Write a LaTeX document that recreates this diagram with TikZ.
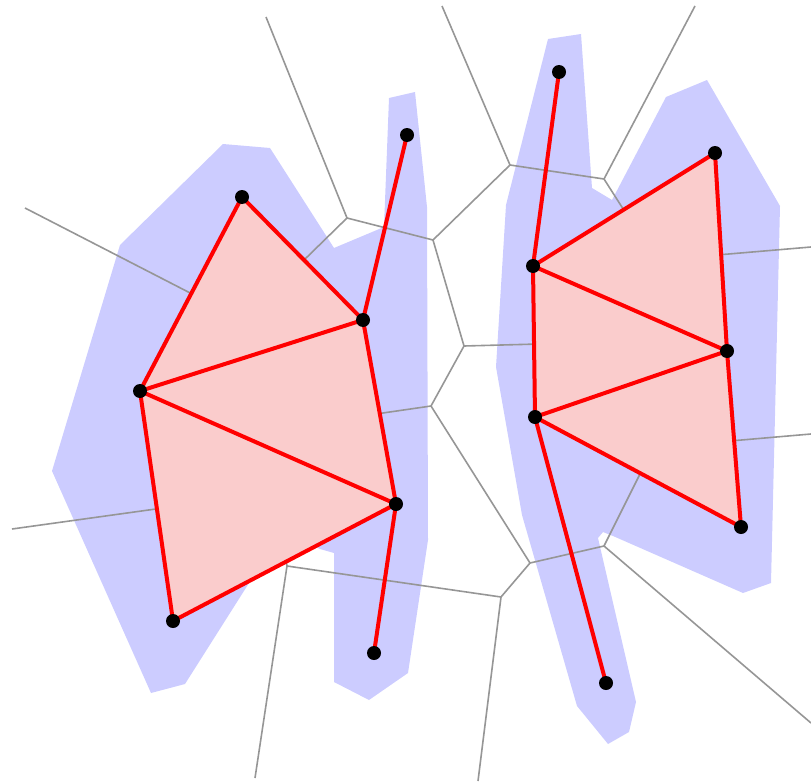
\documentclass[tikz,border=0pt]{standalone}
\usepackage{tikz}
\usetikzlibrary{backgrounds}
\definecolor{regionblue}{RGB}{204,204,255}
\definecolor{cellpink}{RGB}{250,204,204}
\definecolor{voronoigray}{RGB}{150,150,150}

\begin{document}
\begin{tikzpicture}[
    x=1pt, y=-1pt,
    region/.style={fill=regionblue, draw=none},
    cell/.style={fill=cellpink, draw=none},
    voronoi/.style={draw=voronoigray, line width=1.6pt},
    link/.style={draw=red, line width=4pt, line join=round},
    site/.style={circle, fill=black, minimum size=14pt, inner sep=0pt},
  ]
  \useasboundingbox (0,0) rectangle (811,784);
  % sites
  \coordinate (sa) at (242,197);
  \coordinate (sb) at (407,135);
  \coordinate (sc) at (363,320);
  \coordinate (sd) at (140,391);
  \coordinate (se) at (396,504);
  \coordinate (sf) at (173,621);
  \coordinate (sg) at (374,653);
  \coordinate (sh) at (559,72);
  \coordinate (si) at (715,153);
  \coordinate (sj) at (533,266);
  \coordinate (sk) at (727,351);
  \coordinate (sl) at (535,417);
  \coordinate (sm) at (741,527);
  \coordinate (sn) at (606,683);
  % voronoi vertices and free ends
  \coordinate (va) at (347,218);
  \coordinate (vb) at (433,240);
  \coordinate (vc) at (510,165);
  \coordinate (vd) at (604,179);
  \coordinate (ve) at (464,346);
  \coordinate (vf) at (431,406);
  \coordinate (vg) at (530,563);
  \coordinate (vh) at (604,546);
  \coordinate (vi) at (501,597);
  \coordinate (vj) at (287,566);
  \coordinate (ea) at (266,17);
  \coordinate (eb) at (442,6);
  \coordinate (ec) at (695,6);
  \coordinate (ed) at (811,723);
  \coordinate (ee) at (478,781);
  \coordinate (ef) at (255,778);
  \coordinate (eg) at (25,208);
  \coordinate (eh) at (12,529);
  \coordinate (ei) at (811,247);
  \coordinate (ej) at (811,434);
  \coordinate (ia) at (302,262);
  \coordinate (ib) at (627,215);
  \coordinate (ic) at (539,344);
  \coordinate (id) at (376,414);
  \coordinate (ie) at (642,470);
  \coordinate (if) at (196,296);
  \coordinate (ig) at (163,508);
  \coordinate (ih) at (717,255);
  \coordinate (ii) at (730,441);
  \coordinate (ij) at (285,556);
  \begin{scope}[on background layer]
    \path[region] (223,144) -- (270,148) -- (334,248) -- (384,227) -- (389,98) -- (415,92)
      -- (427,207) -- (428,540) -- (408,673) -- (369,700) -- (334,682) -- (334,553)
      -- (320,549) -- (300,540) -- (256,572) -- (185,684) -- (151,693) -- (52,471)
      -- (120,245) -- cycle;
    \path[region] (548,39) -- (581,34) -- (592,188) -- (612,200) -- (666,97) -- (707,80)
      -- (780,206) -- (771,583) -- (743,593) -- (613,536) -- (603,532) -- (598,538)
      -- (636,702) -- (629,732) -- (608,744) -- (577,706) -- (522,515) -- (496,367)
      -- (506,205) -- cycle;
    \draw[voronoi] (ea) -- (va);
    \draw[voronoi] (va) -- (vb);
    \draw[voronoi] (va) -- (ia);
    \draw[voronoi] (vb) -- (vc);
    \draw[voronoi] (vb) -- (ve);
    \draw[voronoi] (eb) -- (vc);
    \draw[voronoi] (vc) -- (vd);
    \draw[voronoi] (vd) -- (ec);
    \draw[voronoi] (vd) -- (ib);
    \draw[voronoi] (ve) -- (vf);
    \draw[voronoi] (ve) -- (ic);
    \draw[voronoi] (vf) -- (id);
    \draw[voronoi] (vf) -- (vg);
    \draw[voronoi] (vg) -- (vh);
    \draw[voronoi] (vg) -- (vi);
    \draw[voronoi] (vh) -- (ie);
    \draw[voronoi] (vh) -- (ed);
    \draw[voronoi] (vi) -- (ee);
    \draw[voronoi] (vi) -- (vj);
    \draw[voronoi] (vj) -- (ef);
    \draw[voronoi] (vj) -- (ij);
    \draw[voronoi] (eg) -- (if);
    \draw[voronoi] (eh) -- (ig);
    \draw[voronoi] (ei) -- (ih);
    \draw[voronoi] (ej) -- (ii);
  \end{scope}
  \path[cell] (sa) -- (sc) -- (sd) -- cycle;
  \path[cell] (sc) -- (se) -- (sd) -- cycle;
  \path[cell] (sd) -- (se) -- (sf) -- cycle;
  \path[cell] (sj) -- (si) -- (sk) -- cycle;
  \path[cell] (sj) -- (sk) -- (sl) -- cycle;
  \path[cell] (sl) -- (sk) -- (sm) -- cycle;
  \draw[link] (sa) -- (sd);
  \draw[link] (sa) -- (sc);
  \draw[link] (sb) -- (sc);
  \draw[link] (sc) -- (sd);
  \draw[link] (sc) -- (se);
  \draw[link] (sd) -- (se);
  \draw[link] (sd) -- (sf);
  \draw[link] (sf) -- (se);
  \draw[link] (se) -- (sg);
  \draw[link] (sh) -- (sj);
  \draw[link] (sj) -- (si);
  \draw[link] (si) -- (sk);
  \draw[link] (sj) -- (sk);
  \draw[link] (sj) -- (sl);
  \draw[link] (sl) -- (sk);
  \draw[link] (sk) -- (sm);
  \draw[link] (sl) -- (sm);
  \draw[link] (sl) -- (sn);
  \foreach \s in {sa,sb,sc,sd,se,sf,sg,sh,si,sj,sk,sl,sm,sn}
    \node[site] (dot-\s) at (\s) {};
\end{tikzpicture}
\end{document}
